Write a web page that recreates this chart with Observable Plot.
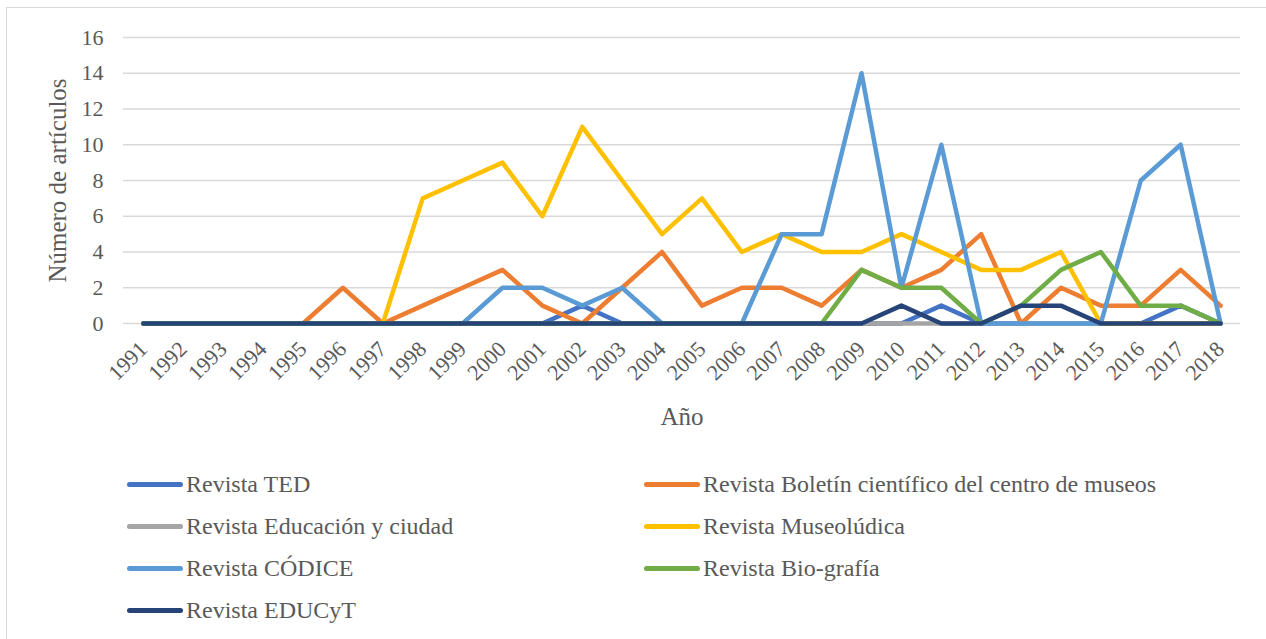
<!DOCTYPE html>
<html>
<head>
<meta charset="utf-8">
<script src="https://cdn.jsdelivr.net/npm/d3@7"></script>
<script src="https://cdn.jsdelivr.net/npm/@observablehq/plot@0.6"></script>
<style>
  body { margin: 0; background: #fff; }
  #chart { position: relative; width: 1266px; height: 639px; overflow: hidden;
           font-family: "Liberation Serif", "Times New Roman", serif; background: #fff; }
  #frame { position: absolute; left: 6px; top: 7px; width: 1290px; height: 660px;
           border: 1px solid #d9d9d9; box-sizing: border-box; }
  #plot { position: absolute; left: 0; top: 0; }
  .item { position: absolute; height: 30px; display: flex; align-items: center;
          font-size: 24px; color: #595959; white-space: nowrap; }
  .swatch { width: 56px; height: 5px; border-radius: 3px; margin-right: 3px; flex: none; }
</style>
</head>
<body>
<div id="chart">
  <div id="frame"></div>
  <div id="plot"></div>
  <div id="legend"></div>
</div>
<script>
// Years on the category axis
const years = [1991, 1992, 1993, 1994, 1995, 1996, 1997, 1998, 1999, 2000,
               2001, 2002, 2003, 2004, 2005, 2006, 2007, 2008, 2009, 2010,
               2011, 2012, 2013, 2014, 2015, 2016, 2017, 2018];

// Articles per year, one array per journal
const ted       = [0,0,0,0,0,0,0,0,0,0,0,1,0,0,0,0,0,0,0,0,1,0,0,0,0,0,1,0];
const boletin   = [0,0,0,0,0,2,0,1,2,3,1,0,2,4,1,2,2,1,3,2,3,5,0,2,1,1,3,1];
const educacion = [0,0,0,0,0,0,0,0,0,0,0,0,0,0,0,0,0,0,0,0,0,0,0,0,0,0,0,0];
const museo     = [0,0,0,0,0,0,0,7,8,9,6,11,8,5,7,4,5,4,4,5,4,3,3,4,0,0,0,0];
const codice    = [0,0,0,0,0,0,0,0,0,2,2,1,2,0,0,0,5,5,14,2,10,0,0,0,0,8,10,0];
const bio       = [0,0,0,0,0,0,0,0,0,0,0,0,0,0,0,0,0,0,3,2,2,0,1,3,4,1,1,0];
const educyt    = [0,0,0,0,0,0,0,0,0,0,0,0,0,0,0,0,0,0,0,1,0,0,1,1,0,0,0,0];

// Series names (legend order) and their colours
const names = [
  "Revista TED",
  "Revista Boletín científico del centro de museos",
  "Revista Educación y ciudad",
  "Revista Museolúdica",
  "Revista CÓDICE",
  "Revista Bio-grafía",
  "Revista EDUCyT"
];
const colors = ["#4472C4", "#ED7D31", "#A5A5A5", "#FFC000", "#5B9BD5", "#70AD47", "#264478"];
const seriesValues = [ted, boletin, educacion, museo, codice, bio, educyt];

const yTicks = [0, 2, 4, 6, 8, 10, 12, 14, 16];

// Long table: one row per journal and year
const rows = names.flatMap((name, i) =>
  years.map((year, j) => ({ name, year, value: seriesValues[i][j] })));

const ink = "#595959";

const chart = Plot.plot({
  width: 1266,
  height: 440,
  marginLeft: 123,
  marginRight: 26,
  marginTop: 37,
  marginBottom: 117,
  style: { fontFamily: "'Liberation Serif', 'Times New Roman', serif", background: "transparent", overflow: "visible" },
  x: { type: "point", domain: years, padding: 0.5, round: false },
  y: { domain: [0, 16] },
  color: { domain: names, range: colors },
  marks: [
    Plot.gridY(yTicks, { stroke: "#d9d9d9", strokeOpacity: 1, strokeWidth: 1.5 }),
    Plot.axisY(yTicks, { tickSize: 0, tickPadding: 20, fontSize: 22, fill: ink, label: null }),
    Plot.axisX({ tickSize: 0, tickPadding: 22, tickRotate: -45, fontSize: 22, fill: ink, label: null,
                 tickFormat: d => String(d) }),
    // one line per journal, drawn in legend order so the later ones sit on top
    ...names.map(n => Plot.line(rows.filter(r => r.name === n), {
      x: "year", y: "value", stroke: "name",
      strokeWidth: 4.5, strokeLinejoin: "round", strokeLinecap: "round"
    })),
    Plot.text(["Año"], { text: d => d, frameAnchor: "bottom", lineAnchor: "middle", dy: 93, fontSize: 25, fill: ink }),
    Plot.text(["Número de artículos"], { text: d => d, frameAnchor: "left", lineAnchor: "middle", textAnchor: "middle", rotate: -90, dx: -66, fontSize: 25, fill: ink })
  ]
});
document.getElementById("plot").appendChild(chart);

// Legend: two columns, filled row by row
const legend = document.getElementById("legend");
const colX = [127, 644];
const rowY = [484, 526, 568, 610];
names.forEach((n, i) => {
  const item = document.createElement("div");
  item.className = "item";
  item.style.left = colX[i % 2] + "px";
  item.style.top = (rowY[Math.floor(i / 2)] - 15) + "px";
  const sw = document.createElement("span");
  sw.className = "swatch";
  sw.style.background = colors[i];
  const label = document.createElement("span");
  label.textContent = n;
  item.appendChild(sw);
  item.appendChild(label);
  legend.appendChild(item);
});
</script>
</body>
</html>
